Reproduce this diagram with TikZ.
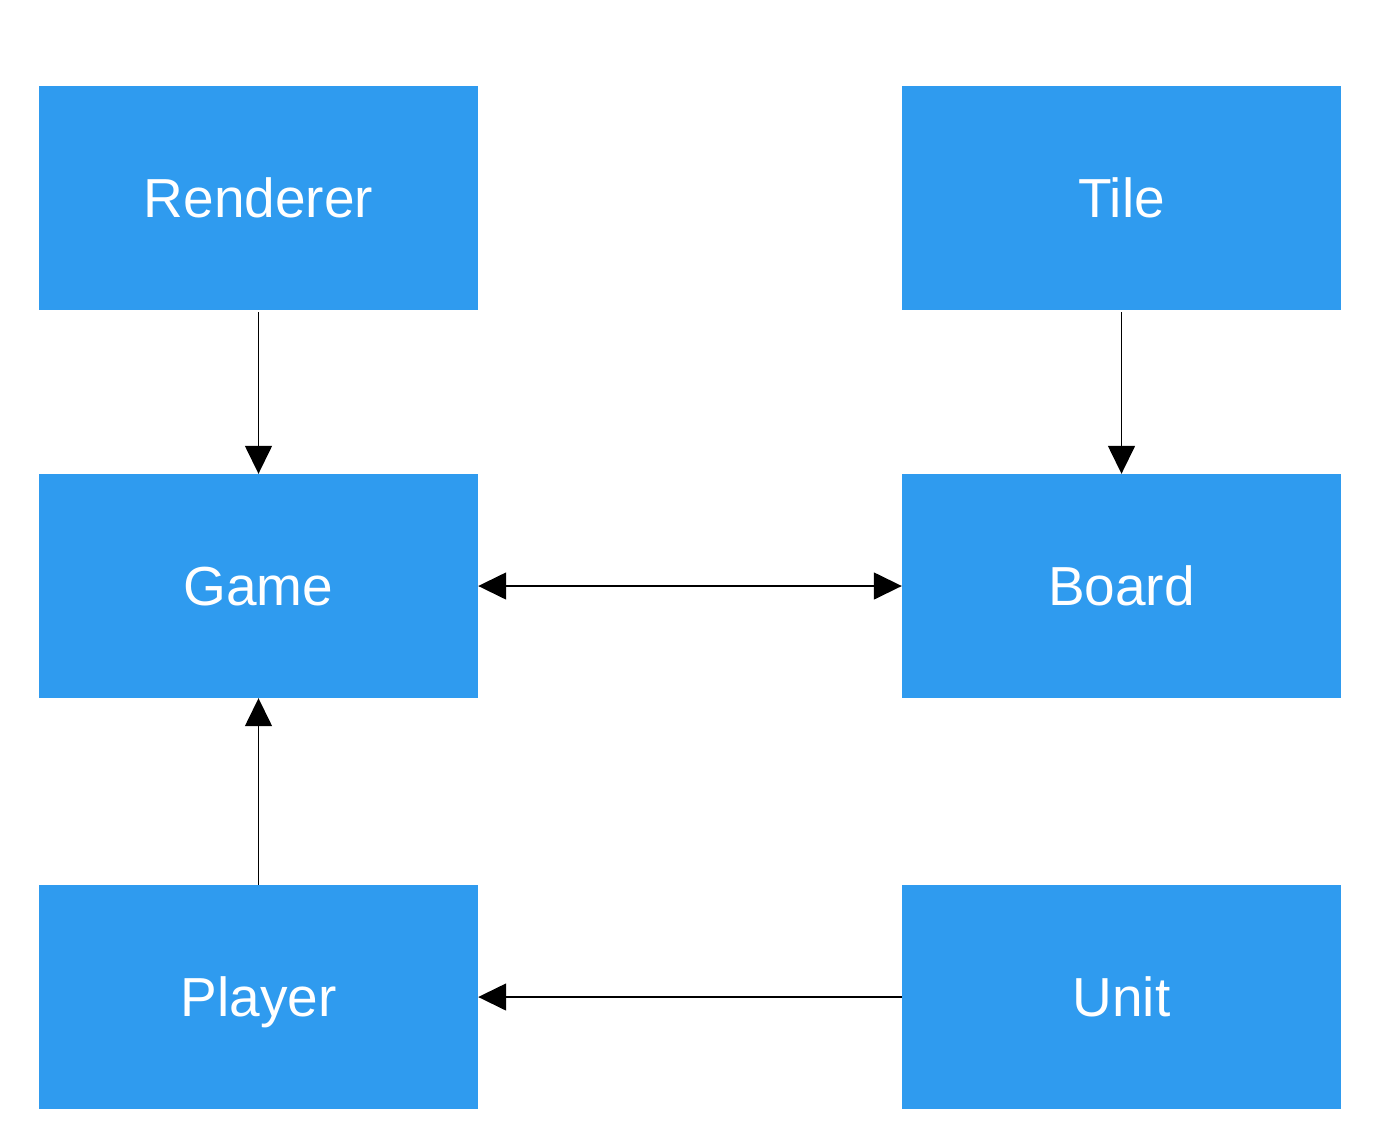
\documentclass[tikz,border=0pt]{standalone}
\usepackage{fontspec}
\setmainfont{Liberation Sans}
\usetikzlibrary{arrows.meta}
\definecolor{boxblue}{HTML}{2F9BEF}
\begin{document}
\begin{tikzpicture}[x=1pt,y=-1pt,
  blk/.style={fill=boxblue,draw=none,minimum width=439pt,minimum height=224pt,inner sep=0pt,text=white,font=\fontsize{55}{60}\selectfont,text height=39.4pt,text depth=0pt},
  conn/.style={draw=black,line width=1.5pt,-{Triangle[length=28pt,width=27pt]}},
  conn2/.style={draw=black,line width=1.5pt,{Triangle[length=28pt,width=27pt]}-{Triangle[length=28pt,width=27pt]}}]
\useasboundingbox (0,0) rectangle (1375,1135);
\node[blk] (renderer) at (258.5,198) {Renderer};
\node[blk] (tile) at (1121.5,198) {Tile};
\node[blk] (game) at (258.5,586) {Game};
\node[blk] (board) at (1121.5,586) {Board};
\node[blk] (player) at (258.5,997) {Player};
\node[blk] (unit) at (1121.5,997) {Unit};
\draw[conn] ([yshift=-2pt]renderer.south) -- (game.north);
\draw[conn] ([yshift=-2pt]tile.south) -- (board.north);
\draw[conn2] (game.east) -- (board.west);
\draw[conn] (player.north) -- (game.south);
\draw[conn] (unit.west) -- (player.east);
\end{tikzpicture}
\end{document}
